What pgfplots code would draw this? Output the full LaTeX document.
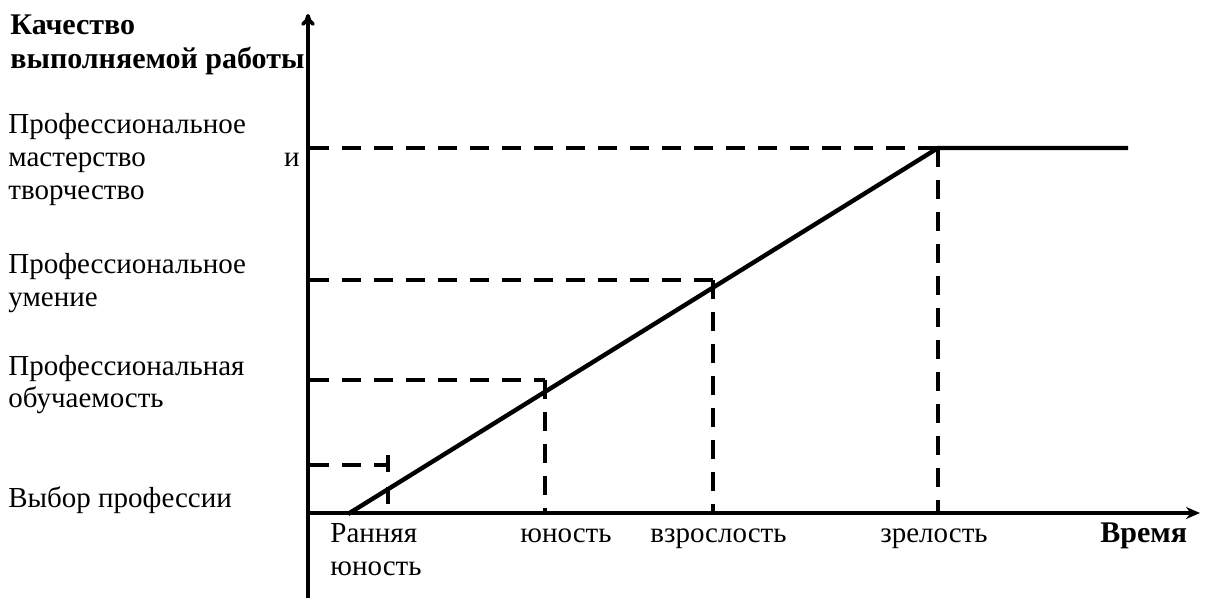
\documentclass[border=0pt]{standalone}
\usepackage{fontspec}
\setmainfont{Liberation Serif}
\usepackage{pgfplots}
\pgfplotsset{compat=1.18}
\usetikzlibrary{arrows.meta}
\newcommand\lblfont{\fontsize{14.5bp}{16.5bp}\selectfont\rmfamily}
\newcommand\ttlfont{\fontsize{15bp}{17bp}\selectfont\rmfamily\bfseries}

\begin{document}
\begin{tikzpicture}[
    lab/.style={anchor=base west, inner sep=0pt, font=\lblfont},
    labb/.style={anchor=base west, inner sep=0pt, font=\ttlfont},
]
\begin{axis}[
    width=602.5bp, height=299bp, scale only axis,
    xmin=0, xmax=1205, ymin=0, ymax=598,
    y dir=reverse,
    hide axis, clip=false,
]
% axes
\addplot[line width=1.8bp, -{To[length=6bp,width=7bp]}] coordinates {(308,598) (308,14)};
\addplot[line width=1.8bp, -{Stealth[length=7bp,width=6bp]}] coordinates {(308,513) (1200,513)};
% quality curve
\addplot[line width=2.2bp] coordinates {(348,514) (938,148) (1128,148)};
% guide lines
\pgfplotsset{guide/.style={line width=2bp, dash pattern=on 9.5bp off 6.5bp}}
\addplot[guide] coordinates {(310,148) (938,148)};
\addplot[guide] coordinates {(938,148) (938,513)};
\addplot[guide] coordinates {(310,280) (713,280)};
\addplot[guide] coordinates {(713,280) (713,513)};
\addplot[guide] coordinates {(310,380) (545,380)};
\addplot[guide] coordinates {(545,380) (545,513)};
\addplot[guide] coordinates {(310,465) (388,465)};
\addplot[line width=2bp, dash pattern=on 8.5bp off 7.5bp] coordinates {(388,455) (388,505)};

% y labels
\node[labb] at (axis cs:10,35) {Качество};
\node[labb] at (axis cs:10,68) {выполняемой работы};
\node[lab] at (axis cs:8,133) {Профессиональное};
\node[lab] at (axis cs:8,166) {мастерство};
\node[lab, anchor=base east] at (axis cs:300,166) {и};
\node[lab] at (axis cs:8,199) {творчество};
\node[lab] at (axis cs:8,273) {Профессиональное};
\node[lab] at (axis cs:8,306) {умение};
\node[lab] at (axis cs:8,375) {Профессиональная};
\node[lab] at (axis cs:8,407) {обучаемость};
\node[lab] at (axis cs:8,507) {Выбор профессии};
% x labels
\node[lab] at (axis cs:330,542) {Ранняя};
\node[lab] at (axis cs:330,575) {юность};
\node[lab] at (axis cs:520,542) {юность};
\node[lab] at (axis cs:650,542) {взрослость};
\node[lab] at (axis cs:880,542) {зрелость};
\node[labb] at (axis cs:1100,542) {Время};
\end{axis}
\pgfresetboundingbox
\path[use as bounding box] (0,0) rectangle (602.5bp,299bp);
\end{tikzpicture}
\end{document}
